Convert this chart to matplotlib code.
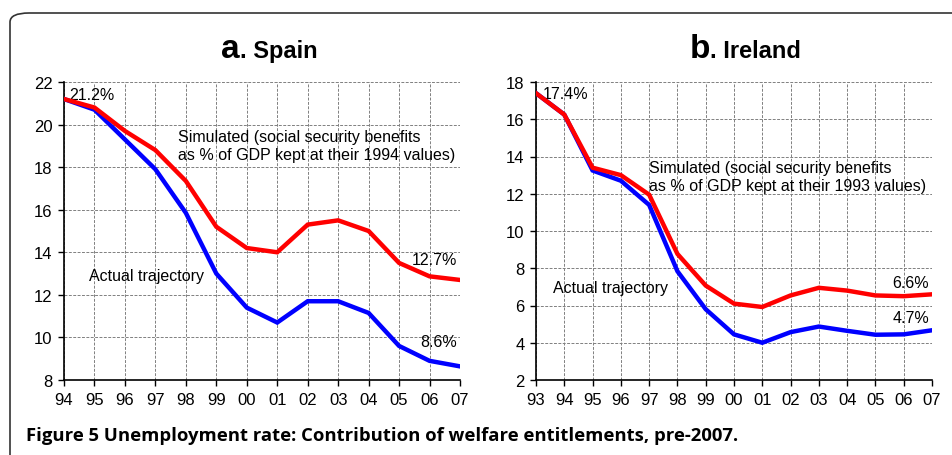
import matplotlib
matplotlib.use('Agg')
import matplotlib.pyplot as plt
from matplotlib.patches import FancyBboxPatch

plt.rcParams['font.family'] = ['Liberation Sans', 'DejaVu Sans']

# Spain
spain_years = ['94', '95', '96', '97', '98', '99', '00', '01', '02', '03', '04', '05', '06', '07']
spain_actual = [21.2, 20.7, 19.3, 17.9, 15.85, 13.0, 11.4, 10.7, 11.7, 11.7, 11.15, 9.6, 8.9, 8.64]
spain_sim = [21.2, 20.8, 19.7, 18.8, 17.35, 15.2, 14.2, 14.0, 15.3, 15.5, 15.0, 13.5, 12.87, 12.7]
spain_yticks = [8, 10, 12, 14, 16, 18, 20, 22]

# Ireland
ireland_years = ['93', '94', '95', '96', '97', '98', '99', '00', '01', '02', '03', '04', '05', '06', '07']
ireland_actual = [17.4, 16.25, 13.25, 12.7, 11.4, 7.84, 5.8, 4.45, 4.0, 4.57, 4.87, 4.64, 4.43, 4.45, 4.67]
ireland_sim = [17.4, 16.25, 13.4, 13.0, 11.95, 8.77, 7.07, 6.1, 5.92, 6.54, 6.95, 6.8, 6.54, 6.5, 6.6]
ireland_yticks = [2, 4, 6, 8, 10, 12, 14, 16, 18]

W, H = 953, 456
fig = plt.figure(figsize=(W / 100, H / 100), dpi=100)


def px(x0, y0, x1, y1):
    return [x0 / W, 1 - y1 / H, (x1 - x0) / W, (y1 - y0) / H]


# rounded frame going off the right and bottom edge
frame = FancyBboxPatch((10 / W, -0.2), 1.2, 1 - 14 / H + 0.2,
                       boxstyle="round,pad=0,rounding_size=0.02",
                       transform=fig.transFigure, fill=False,
                       edgecolor='#333333', linewidth=1.2)
fig.patches.append(frame)


def panel(rect, years, actual, sim, yticks, ylim):
    ax = fig.add_axes(rect)
    x = list(range(len(years)))
    ax.plot(x, actual, color='#0000ff', linewidth=3.2, solid_joinstyle='miter', zorder=3)
    ax.plot(x, sim, color='#ff0000', linewidth=3.2, solid_joinstyle='miter', zorder=4)
    ax.set_xlim(0, len(years) - 1)
    ax.set_ylim(*ylim)
    ax.set_xticks(x)
    ax.set_xticklabels(years)
    ax.set_yticks(yticks)
    ax.grid(True, color='#808080', linestyle=(0, (3, 1.5)), linewidth=0.7)
    ax.spines['top'].set_visible(False)
    ax.spines['right'].set_visible(False)
    ax.spines['left'].set_linewidth(1.2)
    ax.spines['bottom'].set_linewidth(1.2)
    ax.tick_params(labelsize=12, length=4.3, width=1, direction='out')
    ax.tick_params(axis='x', pad=4)
    ax.tick_params(axis='y', pad=4)
    ax.set_axisbelow(True)
    return ax


ax1 = panel(px(64, 83, 460, 381), spain_years, spain_actual, spain_sim, spain_yticks, (8, 22))
ax2 = panel(px(536, 83, 932, 381), ireland_years, ireland_actual, ireland_sim, ireland_yticks, (2, 18))

# titles
fig.text(240 / W, 1 - 58 / H, 'a', fontsize=24, fontweight='bold', ha='right', va='baseline')
fig.text(240 / W, 1 - 58 / H, '. Spain', fontsize=17, fontweight='bold', ha='left', va='baseline')
fig.text(710 / W, 1 - 58 / H, 'b', fontsize=24, fontweight='bold', ha='right', va='baseline')
fig.text(710 / W, 1 - 58 / H, '. Ireland', fontsize=17, fontweight='bold', ha='left', va='baseline')

fs = 11.5
# Spain annotations
ax1.text(0.17, 21.4, '%.1f%%' % spain_sim[0], fontsize=fs, ha='left', va='center')
ax1.text(3.74, 19.0, 'Simulated (social security benefits\nas % of GDP kept at their 1994 values)',
         fontsize=fs, ha='left', va='center', linespacing=1.25)
ax1.text(0.82, 12.9, 'Actual trajectory', fontsize=fs, ha='left', va='center')
ax1.text(12.9, 13.64, '%.1f%%' % spain_sim[-1], fontsize=fs, ha='right', va='center')
ax1.text(12.9, 9.79, '%.1f%%' % spain_actual[-1], fontsize=fs, ha='right', va='center')

# Ireland annotations
ax2.text(0.25, 17.36, '%.1f%%' % ireland_sim[0], fontsize=fs, ha='left', va='center')
ax2.text(4.0, 12.9, 'Simulated (social security benefits\nas % of GDP kept at their 1993 values)',
         fontsize=fs, ha='left', va='center', linespacing=1.25)
ax2.text(0.6, 6.94, 'Actual trajectory', fontsize=fs, ha='left', va='center')
ax2.text(13.9, 7.26, '%.1f%%' % ireland_sim[-1], fontsize=fs, ha='right', va='center')
ax2.text(13.9, 5.38, '%.1f%%' % ireland_actual[-1], fontsize=fs, ha='right', va='center')

fig.text(26 / W, 1 - 436 / H,
         'Figure 5 Unemployment rate: Contribution of welfare entitlements, pre-2007.',
         fontsize=13.3, fontweight='bold', family=['Open Sans', 'DejaVu Sans'],
         ha='left', va='center')

fig.savefig('out.png', dpi=100)
